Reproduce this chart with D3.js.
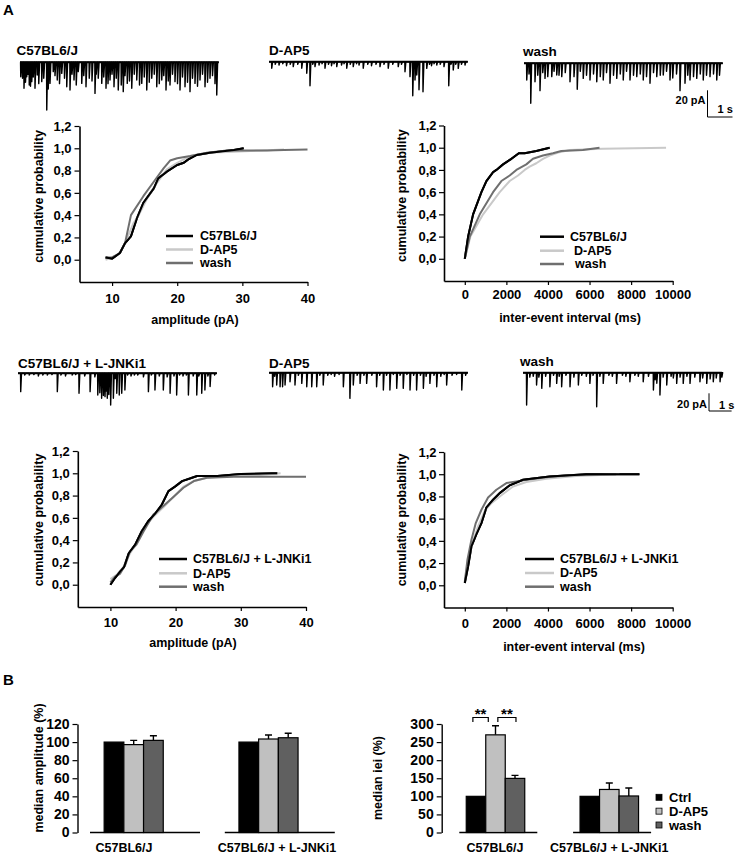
<!DOCTYPE html>
<html><head><meta charset="utf-8">
<script src="https://cdn.jsdelivr.net/npm/d3@7"></script>
<style>
body{margin:0;background:#fff;}
svg{display:block;font-family:"Liberation Sans",Arial,sans-serif;font-weight:bold;}
</style></head><body>
<svg id="c" width="737" height="855"></svg>
<script>
// ---------------- DATA ----------------
const conditions = ["Ctrl", "D-AP5", "wash"];
const seriesNames = ["C57BL6/J", "D-AP5", "wash"];
const seriesNames2 = ["C57BL6/J + L-JNKi1", "D-AP5", "wash"];
const traceTitlesTop = ["C57BL6/J", "D-AP5", "wash"];
const traceTitlesBottom = ["C57BL6/J + L-JNKi1", "D-AP5", "wash"];
const groups = ["C57BL6/J", "C57BL6/J + L-JNKi1"];

// trace events: [time (s), amplitude (pA)]
const traceTopCtrl = [[0.03,10.8],[0.1,12],[0.16,19.5],[0.22,15],[0.27,10.8],[0.32,9],[0.37,17],[0.42,18],[0.47,14.5],[0.53,11],[0.6,19.5],[0.69,9.5],[0.75,16],[0.87,14.5],[0.95,12],[1.07,35.8],[1.13,20],[1.2,15.8],[1.33,7],[1.4,10],[1.49,13.3],[1.58,16],[1.67,8.3],[1.78,12],[1.87,18.3],[2.0,20.8],[2.08,9],[2.16,13.3],[2.25,17],[2.33,7],[2.47,15.8],[2.55,10],[2.64,18.3],[2.77,12],[2.88,14],[3.0,23.3],[3.05,9],[3.13,12],[3.27,15.8],[3.35,11],[3.44,19.5],[3.52,16],[3.6,13.3],[3.68,9],[3.76,18.3],[3.85,12],[3.93,20.8],[4.05,17],[4.13,22],[4.2,10],[4.29,15.8],[4.38,14],[4.47,19.5],[4.57,9],[4.67,13.3],[4.78,17],[4.87,15.8],[4.97,11],[5.07,20.8],[5.17,15],[5.27,12],[5.37,9],[5.47,18.3],[5.57,16],[5.67,13.3],[5.75,10],[5.84,20.8],[5.93,14],[6.0,17],[6.1,9],[6.2,14.5],[6.3,16],[6.4,20.8],[6.5,11],[6.6,18.3],[6.7,15],[6.8,22],[6.9,12],[7.0,15.8],[7.1,18],[7.2,13.3],[7.3,9],[7.4,18.3],[7.5,15],[7.6,12],[7.7,10],[7.8,16],[7.87,24.5]];
const traceTopDap5 = [[0.11,4.9],[0.25,2],[0.4,2.5],[0.55,1.5],[0.7,3],[0.85,2],[0.97,3.7],[1.15,2],[1.31,4.9],[1.51,8.7],[1.64,18],[1.75,2],[1.84,3.7],[2.0,2.5],[2.12,1.5],[2.24,4.9],[2.38,2],[2.5,3],[2.6,1.5],[2.71,3.7],[2.9,2.5],[3.0,1.5],[3.11,4.9],[3.25,2],[3.37,3.7],[3.5,1.5],[3.6,2.5],[3.77,4.9],[3.95,2],[4.1,3],[4.28,2],[4.44,3.7],[4.6,2],[4.77,4.9],[4.95,2],[5.17,3.7],[5.3,2],[5.44,7.5],[5.64,11.2],[5.75,25.5],[5.84,13.7],[5.91,10],[6.0,21],[6.16,22.5],[6.31,5],[6.42,2],[6.5,3],[6.6,1.5],[6.71,2.5],[6.85,2],[7.0,3.7],[7.19,18],[7.28,2],[7.37,6.2],[7.47,2],[7.57,5],[7.7,2],[7.84,2.5]];
const traceTopWash = [[0.11,12.5],[0.2,8],[0.27,30],[0.44,13.8],[0.55,9],[0.64,20.5],[0.75,7],[0.84,11.3],[0.95,10],[1.11,10],[1.2,6],[1.31,8.8],[1.4,9],[1.51,10],[1.65,7],[1.84,13.8],[2.0,10],[2.13,19.5],[2.25,6],[2.37,11.3],[2.5,9],[2.64,12.5],[2.78,8],[2.91,13.8],[3.05,10],[3.17,12.5],[3.3,7],[3.44,15],[3.58,9],[3.71,11.3],[3.85,8],[3.97,12.5],[4.1,6],[4.24,12.5],[4.38,9],[4.51,10],[4.65,8],[4.77,12.5],[4.9,10],[5.04,15],[5.18,7],[5.31,10],[5.45,9],[5.57,8.8],[5.7,6],[5.84,12.5],[5.95,11],[6.1,8],[6.24,20.5],[6.44,15],[6.55,9],[6.64,12.5],[6.78,10],[6.91,11.3],[7.05,8],[7.17,12.5],[7.3,9],[7.44,10],[7.58,8],[7.71,12.5],[7.82,9]];
const traceBotCtrl = [[0.12,20.7],[0.3,2],[0.5,2],[0.7,1.5],[0.9,3],[1.1,2],[1.3,2],[1.5,1.5],[1.74,20.7],[1.9,2],[2.1,3],[2.4,2],[2.55,1.5],[2.7,22.6],[2.95,3],[3.19,20.7],[3.4,4],[3.53,24.5],[3.62,22],[3.7,28.2],[3.78,25],[3.85,26.4],[3.9,20],[3.95,28.2],[4.02,24],[4.1,35.8],[4.22,28.2],[4.3,6],[4.37,22.6],[4.48,24.5],[4.59,22.6],[4.73,18.8],[4.85,2],[5.0,3],[5.15,2],[5.3,2],[5.55,4],[5.77,20.7],[5.9,2],[6.06,18.8],[6.25,3],[6.43,18.8],[6.6,4],[6.73,22.6],[6.9,3],[7.02,24.5],[7.15,2],[7.3,3],[7.45,2],[7.54,24.5],[7.75,3],[7.91,24.5],[8.0,3],[8.13,22.6],[8.27,18.8],[8.4,3],[8.5,15],[8.7,2]];
const traceBotDap5 = [[0.16,15.8],[0.25,4],[0.34,13.9],[0.49,15.8],[0.6,15.8],[0.71,13.9],[0.93,10.2],[1.15,13.9],[1.3,3],[1.45,12.1],[1.67,15.8],[1.89,15.8],[2.11,15.8],[2.25,3],[2.4,13.9],[2.6,3],[2.75,2],[2.9,4],[3.1,2],[3.29,15.8],[3.58,29],[3.73,13.9],[3.9,3],[4.03,12.1],[4.2,3],[4.32,12.1],[4.55,3],[4.76,15.8],[4.9,3],[5.06,19.6],[5.2,3],[5.35,19.6],[5.5,2],[5.65,17.7],[5.8,3],[5.94,17.7],[6.1,2],[6.24,19.6],[6.4,3],[6.53,19.6],[6.7,3],[6.83,17.7],[6.95,4],[7.12,12.1],[7.3,3],[7.42,15.8],[7.6,4],[7.75,2],[7.86,13.9],[8.1,3],[8.3,2],[8.53,19.6],[8.7,3]];
const traceBotWash = [[0.16,36.5],[0.3,5],[0.45,4],[0.6,13.9],[0.7,5],[0.83,17.7],[1.0,4],[1.19,15.8],[1.35,3],[1.49,12.1],[1.6,4],[1.71,15.8],[1.9,3],[2.08,15.8],[2.25,5],[2.45,13.9],[2.6,3],[2.8,4],[2.96,12.1],[3.1,3],[3.26,38.4],[3.4,4],[3.55,12.1],[3.8,3],[3.95,4],[4.14,12.1],[4.4,3],[4.55,4],[4.73,10.2],[4.95,3],[5.1,4],[5.32,10.2],[5.55,4],[5.77,19.6],[5.85,8],[5.92,12],[6.06,25.2],[6.2,5],[6.36,13.9],[6.55,4],[6.65,6],[6.8,12.1],[6.95,5],[7.09,12.1],[7.25,4],[7.39,12.1],[7.6,5],[7.83,10.2],[7.95,6],[8.13,12.1],[8.28,7],[8.42,10.2],[8.55,6],[8.72,10.2],[8.8,5]];

// cumulative distributions: [value, cumulative probability]
const ampTopCtrl = [[9,0.02],[10,0.01],[11.2,0.06],[12,0.15],[12.9,0.21],[13.8,0.37],[14.8,0.51],[16.4,0.64],[17.1,0.73],[18.4,0.79],[20,0.85],[21,0.87],[21.7,0.9],[23,0.94],[25,0.96],[28.7,0.985],[30.2,1.0]];
const ampTopDap5 = [[9,0.0],[10,0.02],[11.2,0.06],[12,0.15],[13.3,0.33],[14.1,0.4],[15.3,0.54],[16.9,0.69],[18.4,0.81],[20,0.87],[22,0.93],[24.6,0.96],[28.7,0.97],[33,0.98],[36.4,0.99]];
const ampTopWash = [[9,0.02],[10,0.02],[11.2,0.06],[12,0.15],[12.9,0.4],[14.8,0.57],[16.4,0.7],[17.9,0.82],[18.9,0.89],[20,0.91],[22,0.93],[24.6,0.96],[27.6,0.98],[33.8,0.98],[36.4,0.985],[40,0.99]];
const ieiTopCtrl = [[0,0],[160,0.2],[400,0.4],[800,0.6],[1040,0.7],[1360,0.78],[1520,0.8],[1840,0.85],[2240,0.9],[2600,0.95],[2880,0.95],[3440,0.97],[4080,1.0]];
const ieiTopDap5 = [[0,0],[270,0.2],[880,0.4],[1680,0.6],[2160,0.7],[2560,0.75],[2880,0.8],[3120,0.83],[3440,0.86],[3760,0.9],[4080,0.93],[4560,0.96],[5040,0.98],[6640,0.99],[9680,1.0]];
const ieiTopWash = [[0,0],[240,0.2],[720,0.4],[1360,0.6],[1760,0.7],[2160,0.75],[2480,0.8],[2960,0.85],[3280,0.9],[3760,0.93],[4240,0.95],[4640,0.97],[5680,0.98],[6480,1.0]];
const ampBotCtrl = [[10,0],[10.7,0.06],[11.5,0.12],[12.1,0.16],[12.8,0.28],[13.8,0.36],[14.8,0.48],[15.8,0.57],[16.9,0.64],[17.9,0.72],[18.9,0.84],[19.9,0.88],[21,0.93],[22.3,0.955],[23.3,0.976],[26.4,0.976],[30,0.994],[35.6,1.0]];
const ampBotDap5 = [[10,0.05],[11,0.09],[12,0.16],[13,0.28],[14,0.37],[15.1,0.51],[16.6,0.61],[18.2,0.7],[19.7,0.79],[21.2,0.88],[22.8,0.93],[24.8,0.96],[28.9,0.976],[33,0.985],[36.1,1.0]];
const ampBotWash = [[10,0.02],[10.7,0.07],[11.5,0.1],[12.3,0.18],[13,0.3],[14,0.36],[15.1,0.48],[16.6,0.63],[18.2,0.71],[19.7,0.79],[21.2,0.87],[22.8,0.93],[24.8,0.96],[28.9,0.97],[40,0.97]];
const ieiBotCtrl = [[0,0.02],[160,0.17],[320,0.35],[560,0.46],[800,0.56],[1040,0.7],[1360,0.77],[1680,0.83],[2160,0.9],[2800,0.95],[4080,0.98],[5840,1.0],[8400,1.0]];
const ieiBotDap5 = [[0,0.03],[160,0.22],[400,0.4],[640,0.53],[960,0.67],[1280,0.74],[1760,0.81],[2320,0.89],[2960,0.93],[3920,0.96],[5360,0.985],[7440,1.0]];
const ieiBotWash = [[0,0.03],[128,0.23],[320,0.41],[528,0.56],[800,0.68],[1120,0.79],[1520,0.86],[2000,0.92],[2640,0.94],[3760,0.97],[5040,0.99],[7280,1.0]];

const probTicks = [0, 0.2, 0.4, 0.6, 0.8, 1.0, 1.2];
const ampTicks = [10, 20, 30, 40];
const ieiTicks = [0, 2000, 4000, 6000, 8000, 10000];

// bar data (median, % of control) per group, per condition
const ampMeans = [[100, 97.2, 101.9], [100, 103.4, 104.8]];
const ampErrs  = [[0, 4.7, 5.1], [0, 4.4, 4.9]];
const ieiMeans = [[100, 270, 149.6], [100, 119, 101]];
const ieiErrs  = [[0, 25, 8.3], [0, 18, 22]];
const ampBarTicks = [0, 20, 40, 60, 80, 100, 120];
const ieiBarTicks = [0, 50, 100, 150, 200, 250, 300];
const sigPairs = [["Ctrl", "D-AP5"], ["D-AP5", "wash"]];

// ---------------- DRAWING ----------------
const svg = d3.select("#c");
const lineColors = ["#000000", "#c9c9c9", "#6f6f6f"];
const barColors = ["#000000", "#c0c0c0", "#606060"];
const fmtComma = d => d3.format(".1f")(d).replace(".", ",");
const fmtInt = d3.format("d");

function txt(x, y, s, size, anchor, extra) {
  const t = svg.append("text").attr("x", x).attr("y", y).text(s)
    .attr("font-size", size).attr("text-anchor", anchor || "start").attr("fill", "#000");
  if (extra) extra(t);
  return t;
}

// panel letters
txt(3, 15, "A", 15);
txt(3, 685, "B", 15);

// traces
function drawTrace(events, x0, base, pxPerS, pxPerPA, dur) {
  const x = d3.scaleLinear().domain([0, dur]).range([x0, x0 + dur * pxPerS]);
  const y = d3.scaleLinear().domain([0, 40]).range([base, base + 40 * pxPerPA]);
  const pts = [[0, 0]];
  events.slice().sort((a, b) => a[0] - b[0]).forEach(e => {
    pts.push([e[0] - 0.008, 0], [e[0], e[1]], [e[0] + 0.035, 0]);
  });
  pts.push([dur, 0]);
  svg.append("path").attr("d", d3.line().x(d => x(d[0])).y(d => y(d[1]))(pts))
    .attr("fill", "none").attr("stroke", "#000").attr("stroke-width", 1.4)
    .attr("stroke-linejoin", "round");
  svg.append("path").attr("d", d3.line()([[x(0), y(0)], [x(dur), y(0)]]))
    .attr("stroke", "#000").attr("stroke-width", 2);
  return {x, y};
}

// top row
const topPxS = 25, topPxPA = 1.335, topDur = 7.95;
drawTrace(traceTopCtrl, 20, 62.3, topPxS, topPxPA, topDur);
drawTrace(traceTopDap5, 269, 61.7, topPxS, topPxPA, topDur);
drawTrace(traceTopWash, 524, 63.3, topPxS, topPxPA, topDur);
txt(16.5, 54.5, traceTitlesTop[0], 13.5);
txt(269, 54.5, traceTitlesTop[1], 13.5);
txt(523, 56, traceTitlesTop[2], 13.5);
// bottom row
const botPxS = 22.6, botPxPA = 0.885, botDur = 8.8;
drawTrace(traceBotCtrl, 18, 373.3, botPxS, botPxPA, botDur);
drawTrace(traceBotDap5, 269, 372.7, botPxS, botPxPA, botDur);
drawTrace(traceBotWash, 523, 372.7, botPxS, botPxPA, botDur);
txt(18, 368.3, traceTitlesBottom[0], 13.5);
txt(269, 368.3, traceTitlesBottom[1], 13.5);
txt(520, 366, traceTitlesBottom[2], 13.5);

// scale bars
function scaleBar(xs, ys, pxPerS, pxPerPA, lblPAy, lblSy) {
  const xsc = d3.scaleLinear().domain([0, 1]).range([xs, xs + pxPerS]);
  const ysc = d3.scaleLinear().domain([0, 20]).range([ys, ys - 20 * pxPerPA]);
  svg.append("path").attr("d", `M${xsc(0)},${ysc(20)}V${ysc(0)}H${xsc(1)}`)
    .attr("fill", "none").attr("stroke", "#000").attr("stroke-width", 1);
  txt(xsc(0) - 2, lblPAy, "20 pA", 11, "end");
  txt(xsc(0) + 10, lblSy, "1 s", 11, "start");
}
scaleBar(707.5, 117, topPxS, topPxPA, 104, 113);
scaleBar(709, 411, botPxS, botPxPA, 408, 409);

// cumulative panels
function cumPanel(cfg) {
  const g = svg.append("g");
  const x = d3.scaleLinear().domain(cfg.xDomain).range(cfg.xRange);
  const y = d3.scaleLinear().domain([-0.2, 1.2]).range(cfg.yRange);
  const ya = g.append("g").attr("transform", `translate(${cfg.xRange[0]},0)`)
    .call(d3.axisLeft(y).tickValues(probTicks).tickFormat(fmtComma).tickSize(5).tickSizeOuter(0).tickPadding(cfg.yPad));
  const xa = g.append("g").attr("transform", `translate(0,${cfg.yRange[0]})`)
    .call(d3.axisBottom(x).tickValues(cfg.xTicks).tickFormat(fmtInt).tickSize(4).tickSizeOuter(0).tickPadding(cfg.xPad));
  [ya, xa].forEach(a => {
    a.attr("font-family", null).attr("font-size", 13);
    a.select(".domain").attr("stroke-width", 1.6);
    a.selectAll(".tick line").attr("stroke-width", 1.2);
    a.selectAll(".tick text").attr("fill", "#000");
  });
  const line = d3.line().x(d => x(d[0])).y(d => y(d[1]));
  cfg.series.forEach((s, i) => {
    g.append("path").attr("d", line(s)).attr("fill", "none")
      .attr("stroke", lineColors[i]).attr("stroke-width", 2).attr("stroke-linejoin", "round");
  });
  g.append("path").attr("d", line(cfg.series[0])).attr("fill", "none")
    .attr("stroke", lineColors[0]).attr("stroke-width", 2);
  // legend
  cfg.names.forEach((n, i) => {
    const ly = cfg.legY[i];
    g.append("line").attr("x1", cfg.legX[0]).attr("x2", cfg.legX[1]).attr("y1", ly).attr("y2", ly)
      .attr("stroke", lineColors[i]).attr("stroke-width", 2.5);
    txt(cfg.legTextX[i], ly, n, 12.5, "start", t => t.attr("dy", "0.35em"));
  });
  txt(cfg.xTitle[0], cfg.xTitle[1], cfg.xTitleText, 12.5, "middle", t => t.attr("dy", "0.35em"));
  txt(0, 0, "cumulative probability", 12.5, "middle", t => t.attr("dy", "0.35em")
    .attr("transform", `translate(${cfg.yTitle[0]},${cfg.yTitle[1]}) rotate(-90)`));
}

cumPanel({xDomain: [5, 40], xRange: [79.5, 307.5], yRange: [282, 126], xTicks: ampTicks, xPad: 7.5, yPad: 3,
  series: [ampTopCtrl, ampTopDap5, ampTopWash], names: seriesNames,
  legX: [166, 193], legY: [236, 249.5, 263], legTextX: [200, 200, 200],
  xTitle: [195, 320], xTitleText: "amplitude (pA)", yTitle: [38.5, 196.5]});
cumPanel({xDomain: [-1000, 10000], xRange: [444, 672.7], yRange: [281, 125.5], xTicks: ieiTicks, xPad: 4.5, yPad: 2.5,
  series: [ieiTopCtrl, ieiTopDap5, ieiTopWash], names: seriesNames,
  legX: [540, 564], legY: [236.7, 250.7, 264], legTextX: [570, 574, 575],
  xTitle: [570, 318], xTitleText: "inter-event interval (ms)", yTitle: [401.7, 195.7]});
cumPanel({xDomain: [5, 40], xRange: [77.8, 306], yRange: [607, 451], xTicks: ampTicks, xPad: 7, yPad: 3,
  series: [ampBotCtrl, ampBotDap5, ampBotWash], names: seriesNames2,
  legX: [159, 187], legY: [559, 573.3, 586.7], legTextX: [193, 193, 193],
  xTitle: [193, 643], xTitleText: "amplitude (pA)", yTitle: [38.5, 520]});
cumPanel({xDomain: [-1000, 10000], xRange: [444, 672.7], yRange: [607.5, 452], xTicks: ieiTicks, xPad: 7, yPad: 2.5,
  series: [ieiBotCtrl, ieiBotDap5, ieiBotWash], names: seriesNames2,
  legX: [525, 554], legY: [559, 573, 586.7], legTextX: [560, 560, 560],
  xTitle: [574, 647], xTitleText: "inter-event interval (ms)", yTitle: [401.7, 520]});

// bar panels
function barPanel(cfg) {
  const g = svg.append("g");
  const y = d3.scaleLinear().domain([0, cfg.max]).range([832.5, 724]);
  const gx = d3.scalePoint().domain(groups).range(cfg.centers);
  const lx = d3.scalePoint().domain(groups).range(cfg.labelCenters);
  const bx = d3.scaleBand().domain(conditions).range([-cfg.bw * 1.5, cfg.bw * 1.5]).padding(0);
  const ya = g.append("g").attr("transform", `translate(${cfg.axisX},0)`)
    .call(d3.axisLeft(y).tickValues(cfg.ticks).tickSize(5).tickSizeOuter(0).tickPadding(3));
  ya.attr("font-family", null).attr("font-size", 14);
  ya.select(".domain").attr("stroke-width", 1.4);
  ya.selectAll(".tick line").attr("stroke-width", 1.2);
  groups.forEach((gr, gi) => {
    const cx = gx(gr);
    g.append("line").attr("x1", cx + cfg.base[0]).attr("x2", cx + cfg.base[1])
      .attr("y1", y(0)).attr("y2", y(0)).attr("stroke", "#000").attr("stroke-width", 1.4);
    conditions.forEach((c, ci) => {
      const v = cfg.means[gi][ci], e = cfg.errs[gi][ci];
      const bxl = cx + bx(c);
      if (e > 0) {
        const mx = bxl + bx.bandwidth() / 2;
        g.append("path").attr("d", `M${mx},${y(v)}V${y(v + e)}M${mx - 3.5},${y(v + e)}H${mx + 3.5}`)
          .attr("stroke", "#000").attr("stroke-width", 1.4).attr("fill", "none");
      }
      g.append("rect").attr("x", bxl).attr("y", y(v)).attr("width", bx.bandwidth())
        .attr("height", y(0) - y(v)).attr("fill", barColors[ci]).attr("stroke", "#000").attr("stroke-width", 1.2);
    });
    txt(lx(gr), 852, gr, 12.5, "middle");
  });
  txt(0, 0, cfg.yTitle, 12.5, "middle", t => t.attr("dy", "0.35em")
    .attr("transform", `translate(${cfg.yTitlePos[0]},${cfg.yTitlePos[1]}) rotate(-90)`));
  return {y, gx, bx};
}

barPanel({max: 120, ticks: ampBarTicks, centers: [133.7, 268.5], labelCenters: [124, 277], bw: 19.7,
  base: [-43.7, 66.3], axisX: 77.5, means: ampMeans, errs: ampErrs,
  yTitle: "median amplitude (%)", yTitlePos: [39, 768]});
const ieiP = barPanel({max: 300, ticks: ieiBarTicks, centers: [495.5, 609.3], labelCenters: [495, 609.3], bw: 19.5,
  base: [-36.2, 41.8], axisX: 441.7, means: ieiMeans, errs: ieiErrs,
  yTitle: "median iei (%)", yTitlePos: [378, 778]});

// significance brackets in first group of iei chart
const bracketOffsets = [[0.34, 0.13], [0.62, 0.55]];
sigPairs.forEach((p, i) => {
  const cx = ieiP.gx(groups[0]);
  const bw = ieiP.bx.bandwidth();
  const x1 = cx + ieiP.bx(p[0]) + bracketOffsets[i][0] * bw;
  const x2 = cx + ieiP.bx(p[1]) + bracketOffsets[i][1] * bw;
  svg.append("path").attr("d", `M${x1},722V717.5H${x2}V722`).attr("fill", "none")
    .attr("stroke", "#000").attr("stroke-width", 1.2);
  txt((x1 + x2) / 2, 719, "**", 15, "middle");
});

// bar legend
conditions.forEach((c, i) => {
  const ly = 797.3 + i * 13.85;
  svg.append("rect").attr("x", 656).attr("y", ly - 3).attr("width", 6).attr("height", 6)
    .attr("fill", barColors[i]).attr("stroke", "#000").attr("stroke-width", 0.8);
  txt(669, ly, c, 13, "start", t => t.attr("dy", "0.35em"));
});
</script>
</body></html>
